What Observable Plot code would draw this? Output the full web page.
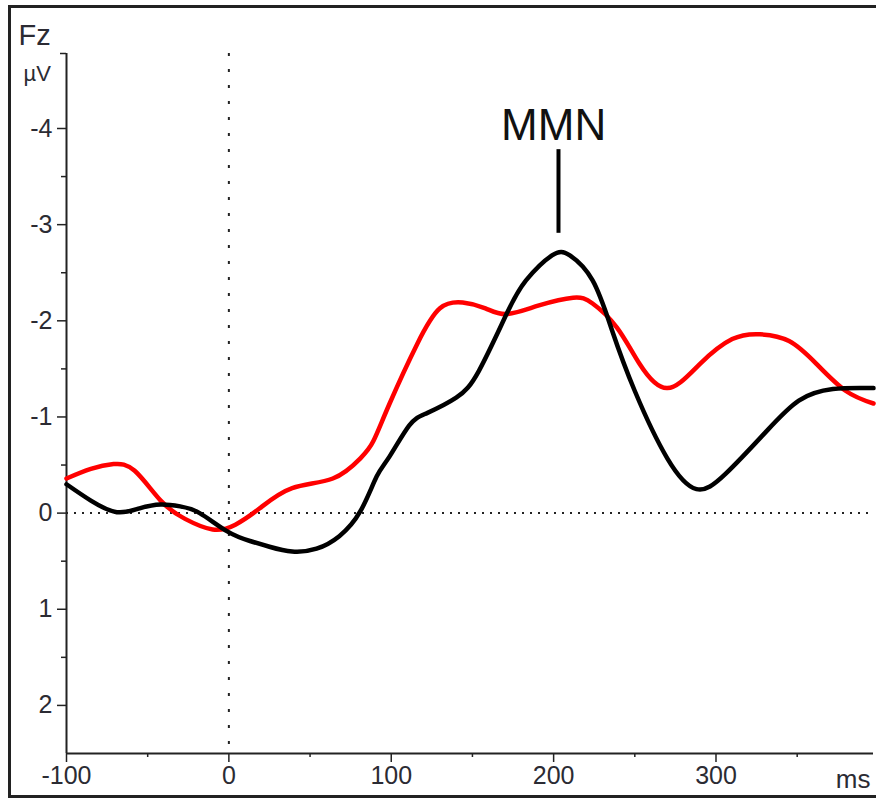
<!DOCTYPE html>
<html>
<head>
<meta charset="utf-8">
<script src="https://cdn.jsdelivr.net/npm/d3@7"></script>
<script src="https://cdn.jsdelivr.net/npm/@observablehq/plot@0.6"></script>
<style>
  html, body { margin: 0; padding: 0; background: #fff; }
  #wrap { position: relative; width: 876px; height: 803px; overflow: hidden; font-family: "Liberation Sans", Arial, sans-serif; }
  #border { position: absolute; left: 8px; top: 5px; width: 880px; height: 793px; border: 3px solid #222; box-sizing: border-box; }
  #chart { position: absolute; left: 0; top: 0; }
</style>
</head>
<body>
<div id="wrap"><div id="chart"></div><div id="border"></div></div>
<script>
// Time (ms) and amplitude (µV) samples
const blackT = [-100, -85, -69, -55, -42, -30, -18, -1, 13, 25, 39, 54, 68, 81, 91, 99, 111, 122, 140, 154, 171, 183, 199, 210, 224, 236, 250, 270, 288, 306, 331, 351, 372, 397];
const blackV = [-0.30, -0.13, -0.01, -0.05, -0.09, -0.07, 0.0, 0.19, 0.29, 0.35, 0.40, 0.37, 0.24, -0.02, -0.38, -0.59, -0.91, -1.04, -1.20, -1.48, -2.07, -2.42, -2.68, -2.68, -2.42, -1.90, -1.27, -0.57, -0.25, -0.41, -0.85, -1.17, -1.29, -1.30];
const redT = [-100, -85, -71, -58, -42, -27, -10, 4, 19, 39, 64, 81, 89, 99, 116, 130, 144, 158, 171, 191, 212, 224, 239, 253, 270, 290, 310, 327, 345, 362, 380, 397];
const redV = [-0.36, -0.46, -0.51, -0.44, -0.13, 0.06, 0.17, 0.12, -0.05, -0.26, -0.36, -0.57, -0.75, -1.14, -1.76, -2.13, -2.19, -2.13, -2.07, -2.16, -2.24, -2.18, -1.93, -1.55, -1.30, -1.55, -1.81, -1.86, -1.79, -1.55, -1.27, -1.14];

const yMajor = [-4, -3, -2, -1, 0, 1, 2];
const yMinor = [-3.5, -2.5, -1.5, -0.5, 0.5, 1.5];
const xMajor = [-100, 0, 100, 200, 300];
const xMinor = [-50, 50, 150, 250, 350];
const xDomain = [-100, 397];
const yDomain = [2.5, -4.78];

const mmnLabel = [{t: 200, v: -4.03, text: "MMN"}];
const mmnMarker = [{t: 203, v1: -3.78, v2: -2.91}];

const black = blackT.map((t, i) => ({t, v: blackV[i]}));
const red = redT.map((t, i) => ({t, v: redV[i]}));

const ink = "#2b2b33";
const fmt = d => String(d);
const plot = Plot.plot({
  width: 876, height: 803,
  marginLeft: 66, marginRight: 3, marginTop: 53, marginBottom: 50,
  style: {fontFamily: "'Liberation Sans', Arial, sans-serif", background: "transparent", color: ink},
  x: {domain: xDomain},
  y: {domain: yDomain},
  marks: [
    Plot.ruleY([0], {stroke: "#222", strokeWidth: 2, strokeDasharray: "2,6"}),
    Plot.ruleX([0], {stroke: "#222", strokeWidth: 2, strokeDasharray: "3,13"}),
    Plot.axisY({ticks: yMajor, tickFormat: fmt, tickSize: 9, tickPadding: 5, fontSize: 25, label: null, stroke: "#222", strokeWidth: 1.5}),
    Plot.axisY({ticks: yMinor, tickSize: 5, text: null, label: null, stroke: "#222", strokeWidth: 1.5}),
    Plot.axisY({ticks: [yDomain[1]], tickSize: 6, text: null, label: null, stroke: "#222", strokeWidth: 1.5}),
    Plot.axisX({ticks: xMajor, tickFormat: fmt, tickSize: 9, tickPadding: 4, fontSize: 25, label: null, stroke: "#222", strokeWidth: 1.5}),
    Plot.axisX({ticks: xMinor, tickSize: 4, text: null, label: null, stroke: "#222", strokeWidth: 1.5}),
    Plot.ruleX([xDomain[0]], {stroke: "#222", strokeWidth: 2}),
    Plot.ruleY([yDomain[0]], {stroke: "#222", strokeWidth: 2}),
    Plot.line(red, {x: "t", y: "v", curve: "natural", stroke: "#ff0000", strokeWidth: 4.5}),
    Plot.line(black, {x: "t", y: "v", curve: "natural", stroke: "#000", strokeWidth: 4.5}),
    Plot.ruleX(mmnMarker, {x: "t", y1: "v1", y2: "v2", stroke: "#000", strokeWidth: 4}),
    Plot.text(mmnLabel, {x: "t", y: "v", text: "text", fontSize: 44, fill: "#111", lineAnchor: "middle"}),
    Plot.text(["Fz"], {frameAnchor: "top-left", textAnchor: "start", lineAnchor: "middle", dx: -48, dy: -18, fontSize: 29, fill: ink}),
    Plot.text(["µV"], {frameAnchor: "top-left", textAnchor: "start", lineAnchor: "middle", dx: -43, dy: 20, fontSize: 22, fill: ink}),
    Plot.text(["ms"], {frameAnchor: "bottom-right", textAnchor: "end", lineAnchor: "middle", dx: -3, dy: 26, fontSize: 26, fill: ink})
  ]
});
document.getElementById("chart").appendChild(plot);
</script>
</body>
</html>
